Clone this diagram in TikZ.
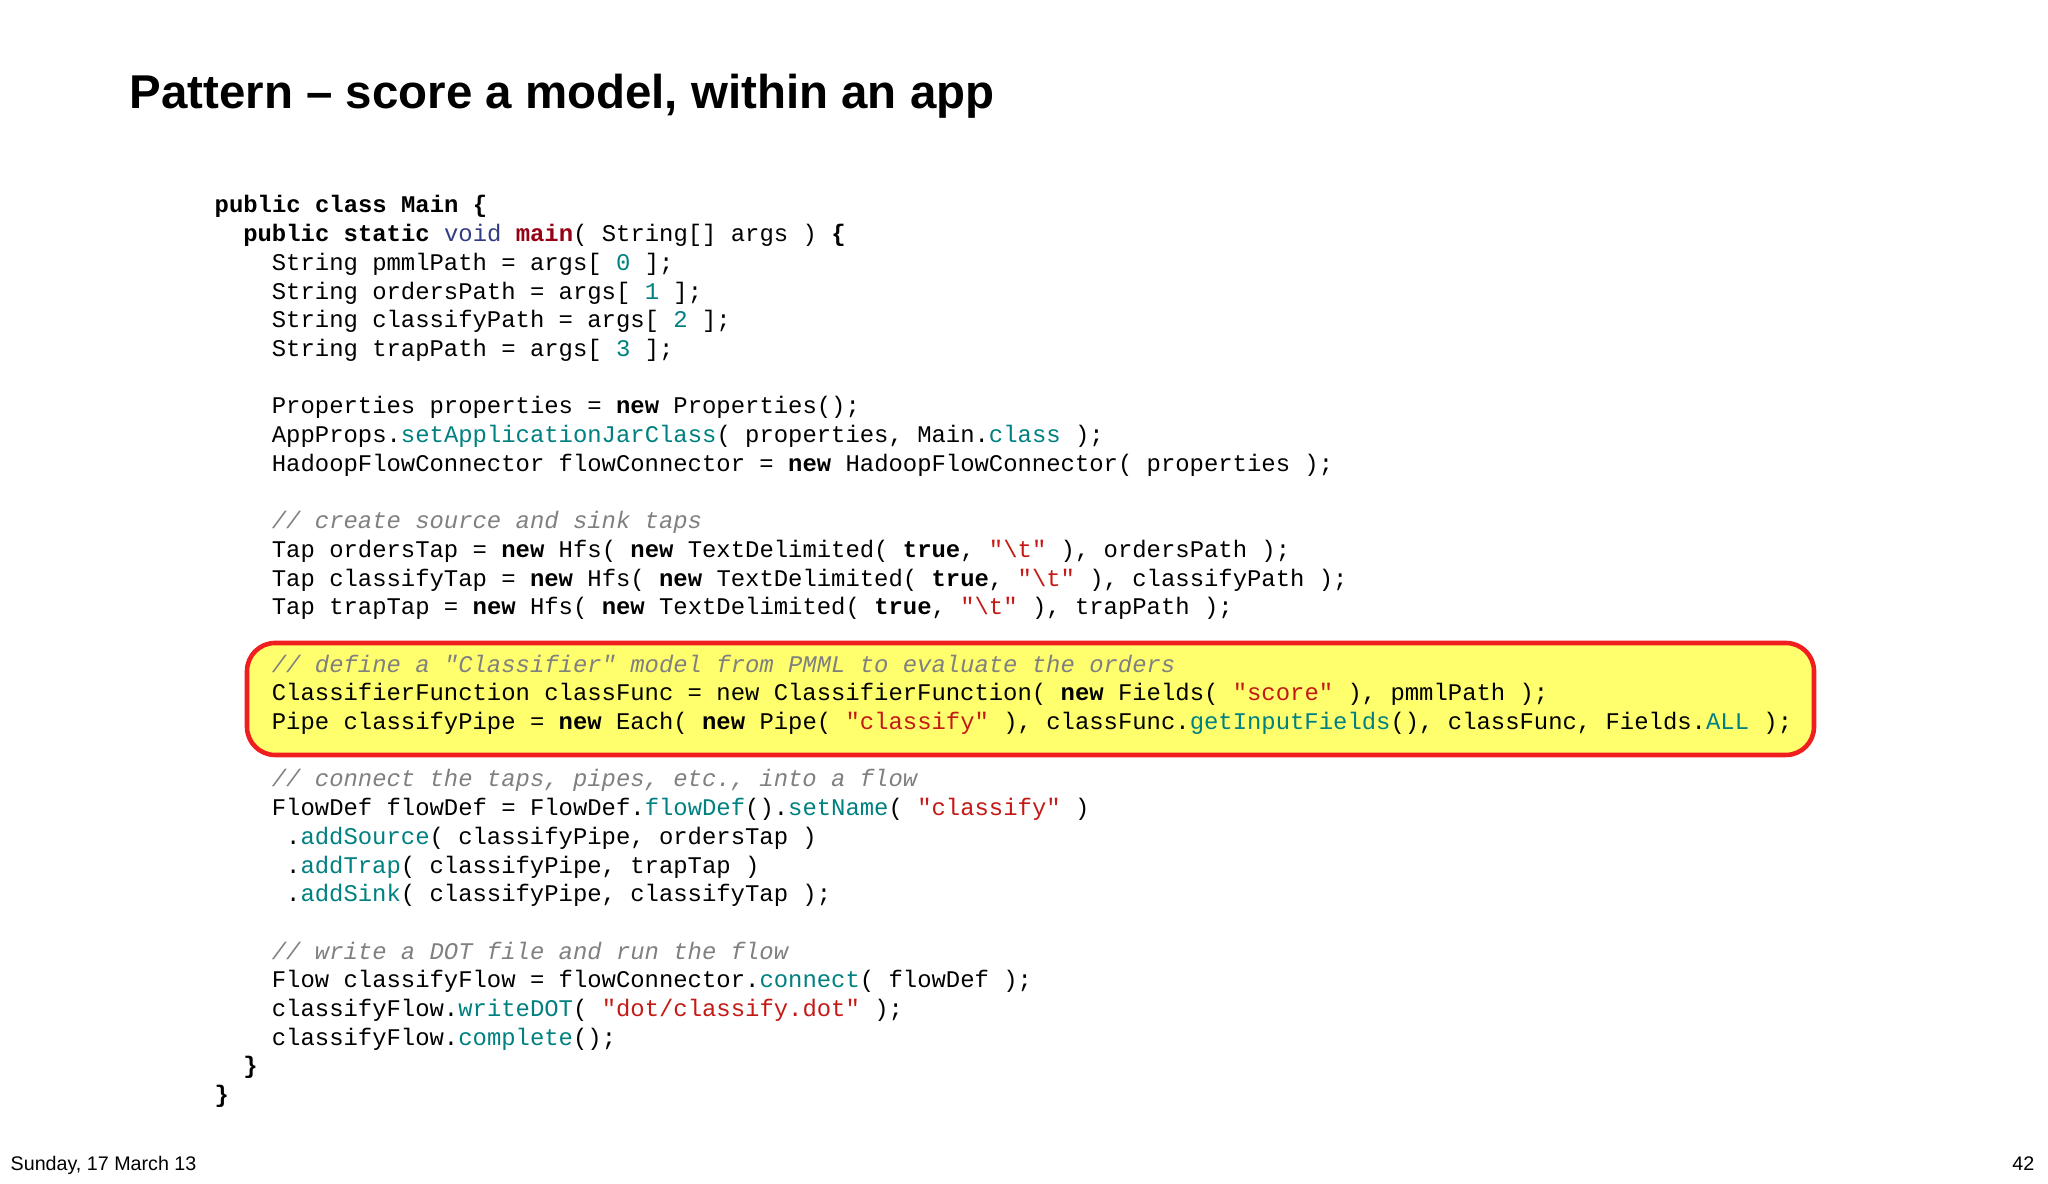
\documentclass[tikz,border=0pt]{standalone}
\usepackage{fontspec}
\setmainfont{Liberation Sans}
\setmonofont{Liberation Mono}
\definecolor{teal}{RGB}{0,128,128}
\definecolor{str}{RGB}{196,26,22}
\definecolor{mred}{RGB}{150,0,20}
\definecolor{navy}{RGB}{50,60,130}
\definecolor{cmt}{RGB}{128,128,128}
\definecolor{hl}{RGB}{255,255,110}
\definecolor{hlb}{RGB}{240,30,30}
\newcommand\K[1]{\textbf{#1}}
\newcommand\T[1]{\textcolor{teal}{#1}}
\newcommand\Q[1]{\textcolor{str}{#1}}
\newcommand\Cm[1]{\textcolor{cmt}{\itshape #1}}
\tikzset{code/.style={anchor=base west,inner sep=0pt,font=\fontsize{6.8pt}{8pt}\ttfamily}}
\newcommand\codeline[3]{\node[code] (l#1) at ({2.14+#2*0.143},{9.71-#1*0.287}) {#3};}
\begin{document}
\begin{tikzpicture}
\useasboundingbox (0,0) rectangle (20.48,11.84);
\node[anchor=base west,inner sep=0pt,font=\fontsize{13.5pt}{15pt}\bfseries] (title) at (1.29,10.75) {Pattern – score a model, within an app};
\node[draw=hlb,line width=1.3pt,fill=hl,rounded corners=8pt,minimum width=15.67cm,minimum height=1.12cm,inner sep=0pt] (box) at (10.305,4.85) {};
\codeline{0}{0}{\K{public class Main \{}}
\codeline{1}{2}{\K{public static} \textcolor{navy}{void} \textcolor{mred}{\K{main}}( String[] args ) \K{\{}}
\codeline{2}{4}{String pmmlPath = args[ \T{0} ];}
\codeline{3}{4}{String ordersPath = args[ \T{1} ];}
\codeline{4}{4}{String classifyPath = args[ \T{2} ];}
\codeline{5}{4}{String trapPath = args[ \T{3} ];}
\codeline{7}{4}{Properties properties = \K{new} Properties();}
\codeline{8}{4}{AppProps.\T{setApplicationJarClass}( properties, Main.\T{class} );}
\codeline{9}{4}{HadoopFlowConnector flowConnector = \K{new} HadoopFlowConnector( properties );}
\codeline{11}{4}{\Cm{// create source and sink taps}}
\codeline{12}{4}{Tap ordersTap = \K{new} Hfs( \K{new} TextDelimited( \K{true}, \Q{"\textbackslash t"} ), ordersPath );}
\codeline{13}{4}{Tap classifyTap = \K{new} Hfs( \K{new} TextDelimited( \K{true}, \Q{"\textbackslash t"} ), classifyPath );}
\codeline{14}{4}{Tap trapTap = \K{new} Hfs( \K{new} TextDelimited( \K{true}, \Q{"\textbackslash t"} ), trapPath );}
\codeline{16}{4}{\Cm{// define a "Classifier" model from PMML to evaluate the orders}}
\codeline{17}{4}{ClassifierFunction classFunc = new ClassifierFunction( \K{new} Fields( \Q{"score"} ), pmmlPath );}
\codeline{18}{4}{Pipe classifyPipe = \K{new} Each( \K{new} Pipe( \Q{"classify"} ), classFunc.\T{getInputFields}(), classFunc, Fields.\T{ALL} );}
\codeline{20}{4}{\Cm{// connect the taps, pipes, etc., into a flow}}
\codeline{21}{4}{FlowDef flowDef = FlowDef.\T{flowDef}().\T{setName}( \Q{"classify"} )}
\codeline{22}{5}{.\T{addSource}( classifyPipe, ordersTap )}
\codeline{23}{5}{.\T{addTrap}( classifyPipe, trapTap )}
\codeline{24}{5}{.\T{addSink}( classifyPipe, classifyTap );}
\codeline{26}{4}{\Cm{// write a DOT file and run the flow}}
\codeline{27}{4}{Flow classifyFlow = flowConnector.\T{connect}( flowDef );}
\codeline{28}{4}{classifyFlow.\T{writeDOT}( \Q{"dot/classify.dot"} );}
\codeline{29}{4}{classifyFlow.\T{complete}();}
\codeline{30}{2}{\K{\}}}
\codeline{31}{0}{\K{\}}}
\node[anchor=base west,inner sep=0pt,font=\fontsize{5.6pt}{6pt}\selectfont] (date) at (0.1,0.13) {Sunday, 17 March 13};
\node[anchor=base east,inner sep=0pt,font=\fontsize{5.6pt}{6pt}\selectfont] (page) at (20.35,0.13) {42};
\end{tikzpicture}
\end{document}
